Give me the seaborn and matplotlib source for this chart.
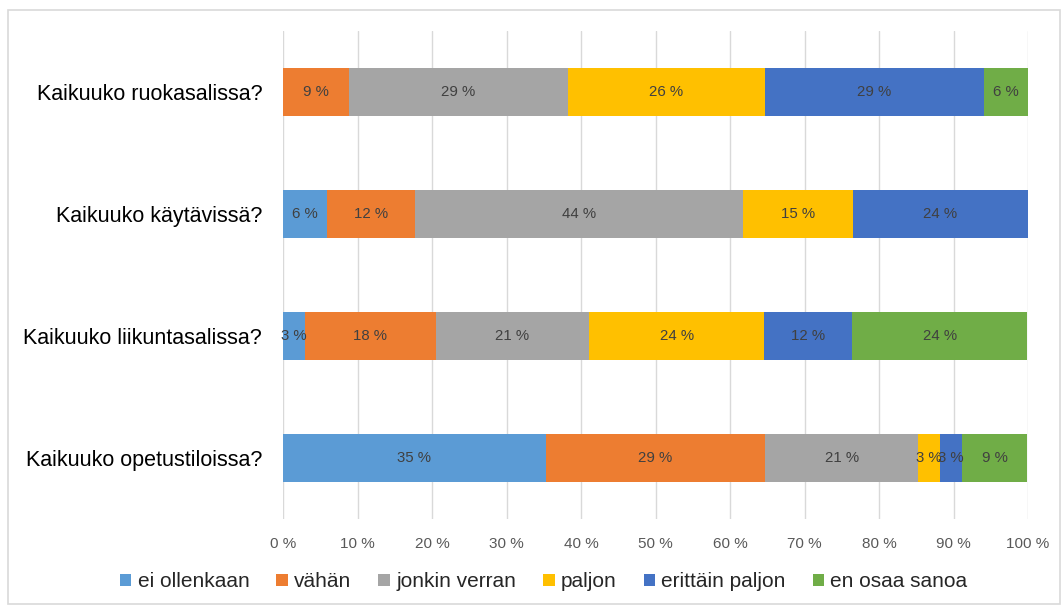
import matplotlib
matplotlib.use("Agg")
import matplotlib.pyplot as plt
import seaborn as sns
import numpy as np
import pandas as pd
from matplotlib.patches import Patch, Rectangle

questions = ["Kaikuuko ruokasalissa?", "Kaikuuko käytävissä?",
             "Kaikuuko liikuntasalissa?", "Kaikuuko opetustiloissa?"]
series_names = ["ei ollenkaan", "vähän", "jonkin verran", "paljon",
                "erittäin paljon", "en osaa sanoa"]
ei_ollenkaan = [0.0, 5.9, 2.9, 35.3]
vahan = [8.8, 11.8, 17.6, 29.4]
jonkin_verran = [29.4, 44.1, 20.6, 20.6]
paljon = [26.5, 14.7, 23.5, 2.9]
erittain_paljon = [29.4, 23.5, 11.8, 2.9]
en_osaa_sanoa = [5.9, 0.0, 23.5, 8.8]
colors = ["#5B9BD5", "#ED7D31", "#A5A5A5", "#FFC000", "#4472C4", "#70AD47"]
xticks = [0, 10, 20, 30, 40, 50, 60, 70, 80, 90, 100]

sns.set_style("white")
plt.rcParams["font.family"] = ["Liberation Sans", "DejaVu Sans"]

series = [ei_ollenkaan, vahan, jonkin_verran, paljon, erittain_paljon, en_osaa_sanoa]
vals = np.array(series)  # shape (6, 4)
cum = np.cumsum(vals, axis=0)

fig = plt.figure(figsize=(10.64, 6.08), dpi=100)
ax = fig.add_axes([283/1064, 1-519/608, (1028-283)/1064, (519-31)/608])

for i in range(len(series) - 1, -1, -1):
    df = pd.DataFrame({"q": questions, "v": cum[i]})
    sns.barplot(data=df, x="v", y="q", orient="h", color=colors[i],
                width=0.4, saturation=1, edgecolor="none", linewidth=0,
                ax=ax, zorder=2)

for i in range(len(series)):
    for j in range(len(questions)):
        v = vals[i, j]
        if v <= 0:
            continue
        center = cum[i, j] - v / 2
        ax.text(center, j, f"{int(round(v))} %", ha="center", va="center",
                fontsize=10.8, color="#404040", zorder=3)

ax.set_xlim(0, 100)
ax.set_ylim(3.5, -0.5)
ax.set_xticks(xticks)
ax.set_xticklabels([f"{t} %" for t in xticks], fontsize=11, color="#595959")
ax.tick_params(axis="x", length=0, pad=13)
ax.tick_params(axis="y", length=0, pad=15, labelsize=15.5, labelcolor="#000000")
ax.set_xlabel("")
ax.set_ylabel("")
ax.xaxis.grid(True, color="#D9D9D9", linewidth=1, zorder=0)
ax.set_axisbelow(True)
for s in ax.spines.values():
    s.set_visible(False)

handles = [Patch(facecolor=c, edgecolor="none") for c in colors]
fig.legend(handles, series_names, loc="center", bbox_to_anchor=(0.511, 0.043),
           ncol=6, frameon=False, fontsize=15, handlelength=0.55,
           handleheight=0.55, handletextpad=0.3, columnspacing=1.3)

fig.patches.append(Rectangle((8/1064, 4/608), (1060-8)/1064, (600-8)/608 + 0.004,
                             transform=fig.transFigure, fill=False,
                             edgecolor="#D9D9D9", linewidth=1.2))

fig.savefig("out.png", dpi=100)
